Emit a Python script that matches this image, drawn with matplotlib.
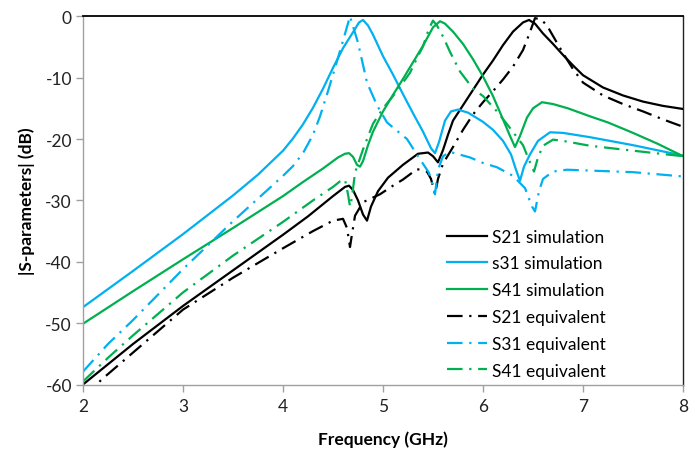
import matplotlib
matplotlib.use("Agg")
import matplotlib.pyplot as plt

plt.rcParams['font.family'] = ['Lato', 'DejaVu Sans']

# S21 simulation
f_s21_sim = [2.0, 2.5, 3.0, 3.5, 4.0, 4.25, 4.5, 4.62, 4.66, 4.7, 4.75, 4.8, 4.84, 4.88, 4.95, 5.05,
             5.2, 5.35, 5.45, 5.5, 5.55, 5.6, 5.65, 5.7, 5.8, 5.9, 6.0, 6.1, 6.2, 6.3, 6.4, 6.46,
             6.52, 6.6, 6.7, 6.8, 6.9, 7.0, 7.2, 7.4, 7.6, 7.8, 8.0]
s21_sim = [-60.0, -53.4, -47.2, -41.4, -35.6, -32.6, -29.3, -27.8, -27.6, -28.3, -30.0, -32.3, -33.3, -31.0,
           -28.5, -26.3, -24.2, -22.4, -22.2, -22.8, -23.8, -21.8, -19.3, -17.0, -14.5, -12.0, -9.5,
           -7.2, -4.7, -2.5, -1.0, -0.6, -1.2, -2.8, -4.5, -6.3, -8.0, -9.6, -11.6, -12.9, -13.9, -14.6, -15.1]

# S31 simulation
f_s31_sim = [2.0, 2.5, 3.0, 3.5, 3.75, 4.0, 4.1, 4.2, 4.3, 4.4, 4.5, 4.6, 4.7, 4.76, 4.8, 4.85, 4.9, 5.0,
             5.1, 5.2, 5.3, 5.4, 5.48, 5.52, 5.56, 5.62, 5.68, 5.75, 5.85, 6.0, 6.1, 6.2, 6.28, 6.33,
             6.37, 6.41, 6.47, 6.55, 6.67, 6.8, 7.07, 7.5, 8.0]
s31_sim = [-47.4, -41.5, -35.5, -29.2, -25.8, -21.9, -19.9, -17.6, -14.9, -11.8, -8.4, -5.2, -2.6, -1.0,
           -0.6, -1.5, -3.0, -6.5, -9.5, -12.7, -15.8, -18.8, -21.5, -22.3, -20.5, -17.0, -15.5, -15.2,
           -15.7, -17.2, -18.5, -20.3, -22.5, -25.0, -26.8, -24.5, -22.5, -20.3, -18.9, -19.0, -19.7,
           -21.0, -22.7]

# S41 simulation
f_s41_sim = [2.0, 2.5, 3.0, 3.5, 4.0, 4.2, 4.4, 4.55, 4.62, 4.66, 4.7, 4.74, 4.77, 4.8, 4.85, 4.9, 5.0,
             5.1, 5.2, 5.3, 5.4, 5.5, 5.57, 5.62, 5.7, 5.8, 5.9, 6.0, 6.1, 6.2, 6.27, 6.32, 6.37, 6.44,
             6.5, 6.59, 6.7, 6.85, 7.07, 7.25, 7.5, 7.75, 8.0]
s41_sim = [-50.1, -44.8, -39.6, -34.5, -29.3, -27.0, -24.8, -23.0, -22.4, -22.3, -22.9, -24.2, -24.5, -23.6,
           -21.0, -18.8, -15.5, -12.8, -10.2, -7.5, -4.8, -1.8, -0.8, -1.2, -2.5, -4.5, -7.0, -9.8,
           -13.0, -16.8, -19.5, -21.3, -19.5, -16.5, -15.0, -14.0, -14.3, -15.0, -16.3, -17.3, -19.0,
           -20.8, -22.8]

# S21 equivalent
f_s21_eq = [2.0, 2.2, 2.5, 3.0, 3.5, 4.0, 4.3, 4.5, 4.6, 4.64, 4.67, 4.69, 4.72, 4.8, 4.97, 5.1, 5.2,
            5.34, 5.44, 5.48, 5.52, 5.55, 5.6, 5.7, 5.8, 5.9, 6.0, 6.1, 6.2, 6.3, 6.4, 6.46, 6.52,
            6.58, 6.64, 6.7, 6.8, 6.9, 7.0, 7.2, 7.4, 7.6, 7.8, 8.0]
s21_eq = [-62.0, -59.0, -54.8, -47.8, -42.6, -37.8, -35.0, -33.3, -33.0, -34.5, -37.6, -35.5, -32.5, -30.3,
          -29.0, -27.6, -26.6, -24.9, -25.3, -26.5, -29.0, -26.5, -24.0, -21.3, -18.5, -16.0, -14.0,
          -12.2, -10.3, -8.2, -5.5, -3.0, -0.3, -0.5, -1.5, -3.2, -6.0, -8.6, -10.8, -12.9, -14.3,
          -15.5, -16.8, -18.0]

# S31 equivalent
f_s31_eq = [2.0, 2.25, 2.5, 3.0, 3.5, 4.0, 4.1, 4.2, 4.3, 4.37, 4.45, 4.5, 4.6, 4.67, 4.75, 4.84, 4.94,
            5.04, 5.24, 5.37, 5.46, 5.5, 5.52, 5.55, 5.6, 5.67, 5.87, 6.0, 6.14, 6.3, 6.42, 6.49, 6.52,
            6.56, 6.6, 6.7, 6.84, 7.5, 8.0]
s31_eq = [-57.9, -53.4, -49.5, -41.2, -33.4, -26.0, -24.4, -22.3, -19.3, -16.3, -12.2, -9.5, -4.0, 0.0,
          -4.3, -10.8, -14.5, -17.3, -20.0, -23.3, -25.5, -27.7, -29.0, -25.0, -22.8, -22.1, -23.0,
          -23.9, -24.6, -26.0, -28.0, -31.0, -31.8, -28.5, -26.5, -25.3, -25.0, -25.4, -26.1]

# S41 equivalent
f_s41_eq = [2.0, 2.26, 2.5, 3.0, 3.5, 4.0, 4.3, 4.5, 4.57, 4.62, 4.65, 4.67, 4.69, 4.72, 4.8, 4.9, 5.0,
            5.1, 5.2, 5.27, 5.35, 5.4, 5.46, 5.5, 5.54, 5.6, 5.67, 5.77, 5.9, 6.0, 6.14, 6.27, 6.4,
            6.47, 6.51, 6.55, 6.6, 6.7, 6.8, 7.07, 7.5, 8.0]
s41_eq = [-59.5, -55.5, -52.0, -45.0, -39.0, -33.5, -30.0, -27.8, -26.9, -26.6, -29.0, -31.0, -29.5,
          -25.5, -21.7, -17.5, -15.0, -13.0, -10.8, -9.2, -6.5, -4.9, -2.0, -0.7, -1.5, -3.3, -5.8,
          -9.0, -11.8, -13.0, -15.5, -18.2, -21.0, -23.8, -25.3, -23.0, -21.1, -20.1, -20.3, -21.1,
          -21.9, -22.8]

labels = ["S21 simulation", "s31 simulation", "S41 simulation",
          "S21 equivalent", "S31 equivalent", "S41 equivalent"]
x_ticks = [2, 3, 4, 5, 6, 7, 8]
y_ticks = [0, -10, -20, -30, -40, -50, -60]

BLACK = "#000000"
BLUE = "#00B0F0"
GREEN = "#00B050"
dashdot = (0, (7, 3, 1, 3))

fig = plt.figure(figsize=(6.89, 4.52), dpi=100)
ax = fig.add_axes([83 / 689, 1 - 385.5 / 452, 600 / 689, (385.5 - 17.3) / 452])

lw = 1.6
ax.plot(f_s21_sim, s21_sim, color=BLACK, lw=lw, label=labels[0])
ax.plot(f_s31_sim, s31_sim, color=BLUE, lw=lw, label=labels[1])
ax.plot(f_s41_sim, s41_sim, color=GREEN, lw=lw, label=labels[2])
ax.plot(f_s21_eq, s21_eq, color=BLACK, lw=lw, ls=dashdot, label=labels[3])
ax.plot(f_s31_eq, s31_eq, color=BLUE, lw=lw, ls=dashdot, label=labels[4])
ax.plot(f_s41_eq, s41_eq, color=GREEN, lw=lw, ls=dashdot, label=labels[5])

ax.set_xlim(2, 8)
ax.set_ylim(-60, 0)
ax.set_xticks(x_ticks)
ax.set_yticks(y_ticks)
ax.set_xticklabels([str(v) for v in x_ticks])
ax.set_yticklabels([str(v) for v in y_ticks])

ax.tick_params(axis='both', labelsize=12.5, color="#A0A0A0", length=5, width=1, labelcolor="#222222")
ax.tick_params(axis='x', pad=5)
ax.tick_params(axis='y', pad=3)

for s in ["left", "bottom"]:
    ax.spines[s].set_color("#A0A0A0")
    ax.spines[s].set_linewidth(1.0)
ax.spines["top"].set_color("#000000")
ax.spines["top"].set_linewidth(1.3)
ax.spines["right"].set_color("#222222")
ax.spines["right"].set_linewidth(1.0)

ax.set_xlabel("Frequency (GHz)", fontsize=12.5, fontweight="bold")
ax.set_ylabel("|S-parameters| (dB)", fontsize=12.5, fontweight="bold")
ax.yaxis.set_label_coords((35 - 83) / 600, 0.5)
ax.xaxis.set_label_coords(0.5, (385.5 - 431) / 368.2)

leg = ax.legend(loc="upper left", bbox_to_anchor=((445 - 83) / 600, (385.5 - 228) / 368.2),
                frameon=False, fontsize=12.5, handlelength=2.3, handletextpad=0.3,
                labelspacing=0.62, borderpad=0.1, borderaxespad=0)

fig.savefig("out.png", dpi=100)
